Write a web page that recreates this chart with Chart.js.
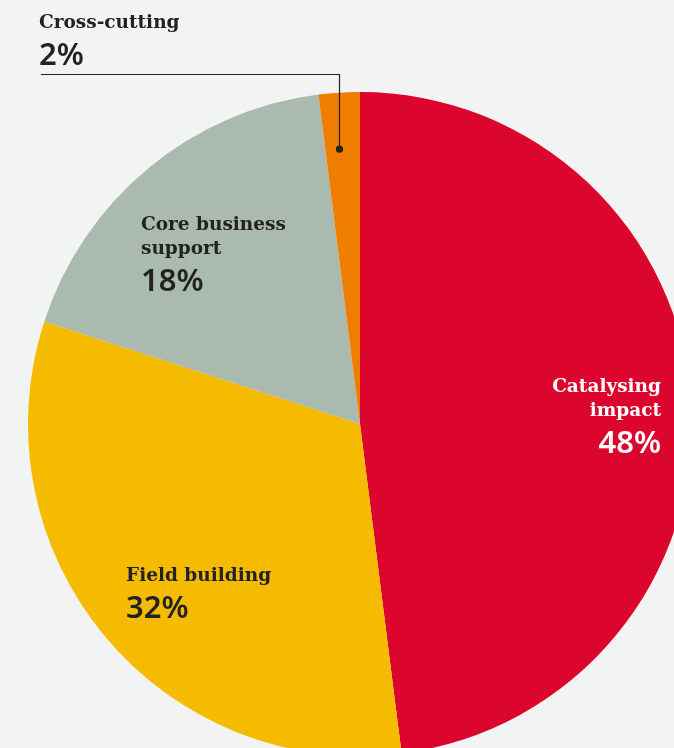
<!DOCTYPE html>
<html>
<head>
<meta charset="utf-8">
<title>Portfolio split</title>
<script src="https://cdn.jsdelivr.net/npm/chart.js@4.4.1/dist/chart.umd.min.js"></script>
<style>
  html, body { margin: 0; padding: 0; background: #f2f4f3; overflow: hidden; }
  #wrap { position: absolute; left: 0; top: 0; }
</style>
</head>
<body>
<div id="wrap"><canvas id="pie" width="720" height="848"></canvas></div>
<script>
// slice data, clockwise from 12 o'clock
const categories = ['Catalysing impact', 'Field building', 'Core business support', 'Cross-cutting'];
const shares = [48, 32, 18, 2];
const sliceColours = ['#dc052d', '#f4bb00', '#aabaae', '#ef7d00'];

// how each category name is broken over lines
const labelLines = [['Catalysing', 'impact'], ['Field building'], ['Core business', 'support'], ['Cross-cutting']];

// label placement (x, first baseline, alignment, text colour)
const labelLayout = [
  { x: 661, y: 392, align: 'right', colour: '#ffffff' },
  { x: 126, y: 581, align: 'left', colour: '#222222' },
  { x: 141, y: 230, align: 'left', colour: '#222222' },
  { x: 39, y: 28, align: 'left', colour: '#222222' }
];

const nameFont = 'bold 18.5px "DejaVu Serif"';
const pctFont = '600 31px "Noto Sans"';

const sliceLabels = {
  id: 'sliceLabels',
  afterDraw(chart) {
    const ctx = chart.ctx;
    const meta = chart.getDatasetMeta(0);
    ctx.save();

    // leader line for the thin slice
    const arc = meta.data[3];
    const p = arc.getProps(['x', 'y', 'startAngle', 'endAngle', 'outerRadius'], true);
    const a = p.startAngle + (p.endAngle - p.startAngle) * 0.4;
    const dx = Math.round(p.x + Math.cos(a) * p.outerRadius * 0.83) + 0.5;
    const dy = p.y + Math.sin(a) * p.outerRadius * 0.83;
    ctx.strokeStyle = '#222222';
    ctx.lineWidth = 1.2;
    ctx.beginPath();
    ctx.moveTo(41, 74.5);
    ctx.lineTo(dx, 74.5);
    ctx.lineTo(dx, dy);
    ctx.stroke();
    ctx.fillStyle = '#222222';
    ctx.beginPath();
    ctx.arc(dx, dy, 3.6, 0, Math.PI * 2);
    ctx.fill();

    // names and percentages
    labelLines.forEach((lines, i) => {
      const L = labelLayout[i];
      ctx.fillStyle = L.colour;
      ctx.textAlign = L.align;
      ctx.textBaseline = 'alphabetic';
      ctx.font = nameFont;
      let y = L.y;
      lines.forEach((t, k) => {
        ctx.fillText(t, L.x, y);
        if (k < lines.length - 1) y += 23.5;
      });
      ctx.font = pctFont;
      ctx.fillText(shares[i] + '%', L.x, y + 37);
    });
    ctx.restore();
  }
};

new Chart(document.getElementById('pie'), {
  type: 'pie',
  data: {
    labels: categories,
    datasets: [{
      data: shares,
      backgroundColor: sliceColours,
      borderWidth: 0,
      hoverOffset: 0
    }]
  },
  options: {
    responsive: false,
    devicePixelRatio: 1,
    animation: false,
    layout: { padding: 28 },
    events: [],
    plugins: {
      legend: { display: false },
      tooltip: { enabled: false }
    }
  },
  plugins: [sliceLabels]
});
</script>
</body>
</html>
